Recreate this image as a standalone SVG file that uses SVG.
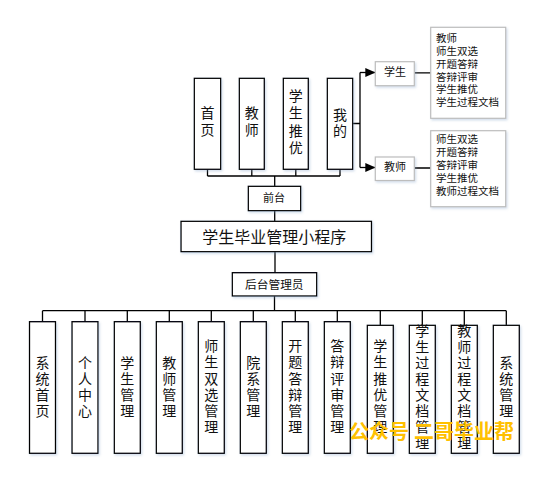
<svg xmlns="http://www.w3.org/2000/svg" width="549" height="489" viewBox="0 0 549 489">
<defs>
<filter id="sh" x="-20%" y="-20%" width="150%" height="150%">
<feDropShadow dx="1.2" dy="1.5" stdDeviation="1.2" flood-color="#7f9fc8" flood-opacity="0.35"/>
</filter>
<marker id="arr" markerWidth="10" markerHeight="9" refX="10" refY="4.5" orient="auto" markerUnits="userSpaceOnUse">
<path d="M0,0 L10,4.5 L0,9 Z" fill="#000"/>
</marker>
<style>
.b{fill:#fff;stroke:#000;stroke-width:1.3;filter:url(#sh)}
.g{fill:#fff;stroke:#bdbdbd;stroke-width:1.2;filter:url(#sh)}
.t{font-family:"Noto Sans CJK SC","Noto Sans CJK JP",sans-serif;fill:#111;text-anchor:middle;dominant-baseline:central}
.v{font-size:14px}
.s{font-size:11px}
.l{font-family:"Noto Sans CJK SC","Noto Sans CJK JP",sans-serif;fill:#111;font-size:10.5px;dominant-baseline:central}
.c{fill:none;stroke:#000;stroke-width:1.3}
.w{font-family:"Noto Sans CJK SC","Noto Sans CJK JP",sans-serif;font-size:20px;font-weight:bold;fill:#FFC000}
</style>
</defs>
<rect width="549" height="489" fill="#fff"/>

<g id="connectors">
<path class="c" d="M207.5,169.3V176M251.8,169.3V176M295.8,169.3V176M340,169.3V176M207.5,176H340M274.7,176V186.3"/>
<path class="c" d="M274.7,210.7V221.3"/>
<path class="c" d="M275,251.7V272.7"/>
<path class="c" d="M274.5,296V310.7M42.5,310.7H506.3"/>
<path class="c" d="M42.5,310.7V321.7M85,310.7V321.7M127.3,310.7V321.7M169.3,310.7V321.7M211.3,310.7V321.7M253.3,310.7V321.7M295.3,310.7V321.7M337.3,310.7V321.7M380.3,310.7V325.3M422.3,310.7V325.3M464.3,310.7V325.3M506.3,310.7V325.3"/>
<path class="c" d="M352.7,123.5H360M360,72.5V167.5"/>
<path class="c" d="M360,72.5H375.3" marker-end="url(#arr)"/>
<path class="c" d="M360,167.5H375.3" marker-end="url(#arr)"/>
<path class="c" d="M414.5,72.8H430.7M414.5,168H430.7"/>
</g>

<g id="n-home"><rect class="b" x="194.3" y="78.3" width="26.4" height="91"/>
<text class="t v"><tspan x="207.5" y="112">首</tspan><tspan x="207.5" y="129">页</tspan></text></g>
<g id="n-teacher"><rect class="b" x="239.3" y="78.3" width="25" height="91"/>
<text class="t v"><tspan x="251.8" y="112">教</tspan><tspan x="251.8" y="129">师</tspan></text></g>
<g id="n-recommend"><rect class="b" x="283.3" y="78.3" width="25" height="91"/>
<text class="t v"><tspan x="295.8" y="95">学</tspan><tspan x="295.8" y="112.3">生</tspan><tspan x="295.8" y="129.6">推</tspan><tspan x="295.8" y="147">优</tspan></text></g>
<g id="n-mine"><rect class="b" x="327.3" y="78.3" width="25.4" height="91"/>
<text class="t v"><tspan x="340" y="114">我</tspan><tspan x="340" y="130">的</tspan></text></g>

<g id="n-student"><rect class="g" x="375.3" y="61.7" width="39" height="24"/>
<text class="t s" x="395" y="71">学生</text></g>
<g id="n-teacher2"><rect class="g" x="375.3" y="157" width="39" height="23.5"/>
<text class="t s" x="395" y="166.3">教师</text></g>

<g id="n-slist"><rect class="g" x="430.7" y="27.3" width="75" height="91"/>
<text class="l"><tspan x="436" y="37.3">教师</tspan><tspan x="436" y="50.1">师生双选</tspan><tspan x="436" y="62.9">开题答辩</tspan><tspan x="436" y="75.5">答辩评审</tspan><tspan x="436" y="88.2">学生推优</tspan><tspan x="436" y="101.2">学生过程文档</tspan></text></g>
<g id="n-tlist"><rect class="g" x="430.7" y="130.7" width="75" height="76"/>
<text class="l"><tspan x="436" y="138.4">师生双选</tspan><tspan x="436" y="151.2">开题答辩</tspan><tspan x="436" y="164">答辩评审</tspan><tspan x="436" y="176.8">学生推优</tspan><tspan x="436" y="189.7">教师过程文档</tspan></text></g>

<g id="n-front"><rect class="b" x="248.3" y="186.3" width="52.4" height="24.4"/>
<text class="t" style="font-size:11px" x="274" y="197">前台</text></g>
<g id="n-main"><rect class="b" x="181" y="221.3" width="190.5" height="30.4"/>
<text class="t" style="font-size:16px" x="274.2" y="235.8">学生毕业管理小程序</text></g>
<g id="n-admin"><rect class="b" x="232.3" y="272.7" width="84.4" height="23.3"/>
<text class="t" style="font-size:11.7px" x="274.3" y="283.3">后台管理员</text></g>

<g id="m1"><rect class="b" x="29.5" y="321.7" width="26" height="131.6"/>
<text class="t v"><tspan x="42.5" y="361.5">系</tspan><tspan x="42.5" y="377.5">统</tspan><tspan x="42.5" y="393.5">首</tspan><tspan x="42.5" y="409.5">页</tspan></text></g>
<g id="m2"><rect class="b" x="72" y="321.7" width="26" height="131.6"/>
<text class="t v"><tspan x="85" y="361.5">个</tspan><tspan x="85" y="377.5">人</tspan><tspan x="85" y="393.5">中</tspan><tspan x="85" y="409.5">心</tspan></text></g>
<g id="m3"><rect class="b" x="114.3" y="321.7" width="26" height="131.6"/>
<text class="t v"><tspan x="127.3" y="361.5">学</tspan><tspan x="127.3" y="377.5">生</tspan><tspan x="127.3" y="393.5">管</tspan><tspan x="127.3" y="409.5">理</tspan></text></g>
<g id="m4"><rect class="b" x="156.3" y="321.7" width="26" height="131.6"/>
<text class="t v"><tspan x="169.3" y="361.5">教</tspan><tspan x="169.3" y="377.5">师</tspan><tspan x="169.3" y="393.5">管</tspan><tspan x="169.3" y="409.5">理</tspan></text></g>
<g id="m5"><rect class="b" x="198.3" y="321.7" width="26" height="131.6"/>
<text class="t v"><tspan x="211.3" y="345.3">师</tspan><tspan x="211.3" y="361.4">生</tspan><tspan x="211.3" y="377.5">双</tspan><tspan x="211.3" y="393.6">选</tspan><tspan x="211.3" y="409.7">管</tspan><tspan x="211.3" y="425.8">理</tspan></text></g>
<g id="m6"><rect class="b" x="240.3" y="321.7" width="26" height="131.6"/>
<text class="t v"><tspan x="253.3" y="361.5">院</tspan><tspan x="253.3" y="377.5">系</tspan><tspan x="253.3" y="393.5">管</tspan><tspan x="253.3" y="409.5">理</tspan></text></g>
<g id="m7"><rect class="b" x="282.3" y="321.7" width="26" height="131.6"/>
<text class="t v"><tspan x="295.3" y="345.3">开</tspan><tspan x="295.3" y="361.4">题</tspan><tspan x="295.3" y="377.5">答</tspan><tspan x="295.3" y="393.6">辩</tspan><tspan x="295.3" y="409.7">管</tspan><tspan x="295.3" y="425.8">理</tspan></text></g>
<g id="m8"><rect class="b" x="324.3" y="321.7" width="26" height="131.6"/>
<text class="t v"><tspan x="337.3" y="345.3">答</tspan><tspan x="337.3" y="361.4">辩</tspan><tspan x="337.3" y="377.5">评</tspan><tspan x="337.3" y="393.6">审</tspan><tspan x="337.3" y="409.7">管</tspan><tspan x="337.3" y="425.8">理</tspan></text></g>
<g id="m9"><rect class="b" x="367.3" y="325.3" width="26" height="128"/>
<text class="t v"><tspan x="380.3" y="345.3">学</tspan><tspan x="380.3" y="361.4">生</tspan><tspan x="380.3" y="377.5">推</tspan><tspan x="380.3" y="393.6">优</tspan><tspan x="380.3" y="409.7">管</tspan><tspan x="380.3" y="425.8">理</tspan></text></g>
<g id="m10"><rect class="b" x="409.3" y="325.3" width="26" height="128"/>
<text class="t v"><tspan x="422.3" y="329.5">学</tspan><tspan x="422.3" y="345.6">生</tspan><tspan x="422.3" y="361.7">过</tspan><tspan x="422.3" y="377.8">程</tspan><tspan x="422.3" y="393.9">文</tspan><tspan x="422.3" y="410">档</tspan><tspan x="422.3" y="426.1">管</tspan><tspan x="422.3" y="442.2">理</tspan></text></g>
<g id="m11"><rect class="b" x="451.3" y="325.3" width="26" height="128"/>
<text class="t v"><tspan x="464.3" y="329.5">教</tspan><tspan x="464.3" y="345.6">师</tspan><tspan x="464.3" y="361.7">过</tspan><tspan x="464.3" y="377.8">程</tspan><tspan x="464.3" y="393.9">文</tspan><tspan x="464.3" y="410">档</tspan><tspan x="464.3" y="426.1">管</tspan><tspan x="464.3" y="442.2">理</tspan></text></g>
<g id="m12"><rect class="b" x="493.3" y="325.3" width="26" height="128"/>
<text class="t v"><tspan x="506.3" y="361.5">系</tspan><tspan x="506.3" y="377.5">统</tspan><tspan x="506.3" y="393.5">管</tspan><tspan x="506.3" y="409.5">理</tspan></text></g>

<text class="w" x="349" y="439">公众号<tspan x="414">二哥毕业帮</tspan></text>
</svg>
